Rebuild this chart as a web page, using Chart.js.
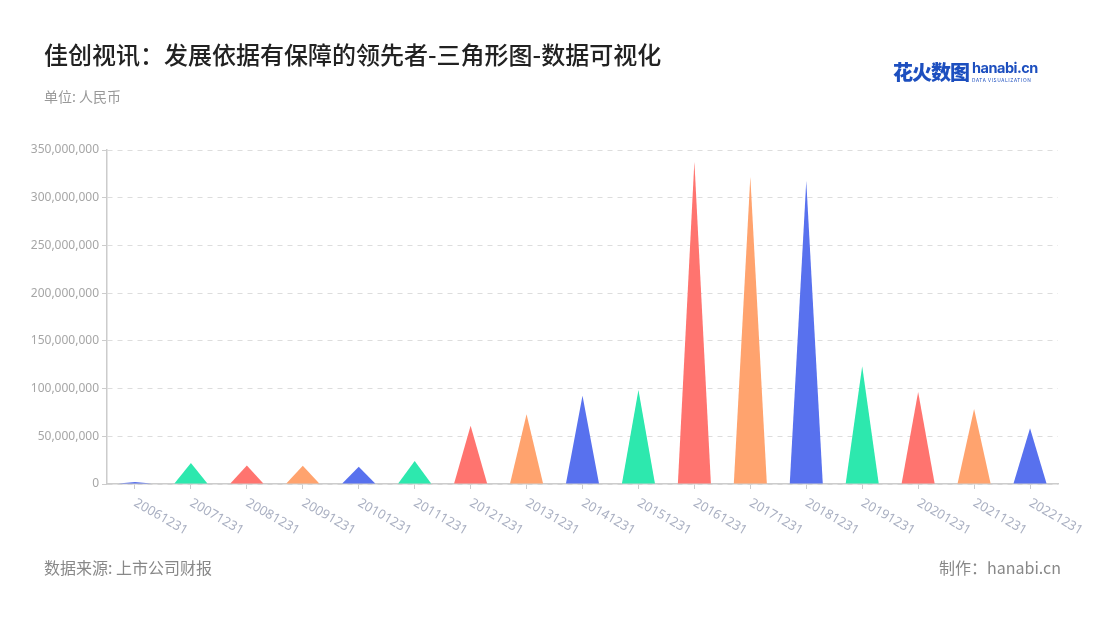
<!DOCTYPE html>
<html>
<head>
<meta charset="utf-8">
<script src="https://cdn.jsdelivr.net/npm/chart.js@4"></script>
<style>
  html, body { margin: 0; padding: 0; background: #fff; }
  body { width: 1100px; height: 620px; position: relative; overflow: hidden; font-family: "Noto Sans CJK SC", "Noto Sans", sans-serif; }
  #wrap { position: absolute; left: 0; top: 0; width: 1100px; height: 620px; }
  .title { position: absolute; left: 44px; top: 36px; font-size: 24px; font-weight: 500; color: #222; white-space: nowrap; }
  .unit { position: absolute; left: 44px; top: 86px; font-size: 14px; color: #999; }
  .source { position: absolute; left: 44px; top: 555px; font-size: 16px; color: #888; }
  .maker { position: absolute; right: 39px; top: 555px; font-size: 16px; color: #888; }
  .logo { position: absolute; left: 893px; top: 57px; color: #1d4fbf; white-space: nowrap; }
  .logo .cn { font-size: 20px; font-weight: 900; letter-spacing: -1px; vertical-align: top; }
  .logo .en { display: inline-block; margin-left: 3px; vertical-align: top; line-height: 1; }
  .logo .en b { display: block; font-family: "Inter", sans-serif; font-size: 14.5px; font-weight: 700; letter-spacing: -0.5px; margin-top: 4px; }
  .logo .en i { display: block; font-style: normal; font-size: 5px; letter-spacing: 0.6px; margin-top: 1px; }
</style>
</head>
<body>
<div id="wrap"><canvas id="chart" width="1100" height="620"></canvas></div>
<div class="title">佳创视讯：发展依据有保障的领先者-三角形图-数据可视化</div>
<div class="unit">单位: 人民币</div>
<div class="source">数据来源: 上市公司财报</div>
<div class="maker">制作：hanabi.cn</div>
<div class="logo"><span class="cn">花火数图</span><span class="en"><b>hanabi.cn</b><i>DATA VISUALIZATION</i></span></div>
<script>
const categories = ['20061231', '20071231', '20081231', '20091231', '20101231', '20111231',
    '20121231', '20131231', '20141231', '20151231', '20161231', '20171231',
    '20181231', '20191231', '20201231', '20211231', '20221231'];
const revenue = [2000000, 22000000, 19500000, 19000000, 18000000, 24000000,
    61000000, 73000000, 92500000, 98500000, 338000000, 322000000,
    317500000, 123500000, 96500000, 78500000, 58500000];
const yTicks = [0, 50000000, 100000000, 150000000, 200000000, 250000000, 300000000, 350000000];

const PALETTE = ['#5871ee', '#2de8ae', '#ff746f', '#ffa36e'];

// desenha cada barra como triângulo usando as posições calculadas pelo Chart.js
const trianglePlugin = {
    id: 'triangles',
    beforeDatasetDraw(chart, args) {
        const ctx = chart.ctx;
        const meta = args.meta;
        ctx.save();
        meta.data.forEach((bar, i) => {
            const p = bar.getProps(['x', 'y', 'base', 'width'], true);
            ctx.beginPath();
            ctx.moveTo(p.x - p.width / 2, p.base);
            ctx.lineTo(p.x, p.y);
            ctx.lineTo(p.x + p.width / 2, p.base);
            ctx.closePath();
            ctx.fillStyle = PALETTE[i % PALETTE.length];
            ctx.fill();
        });
        ctx.restore();
        return false;
    }
};

// rótulos do eixo x inclinados para baixo, começando no tick
const xLabelPlugin = {
    id: 'xLabels',
    afterDraw(chart) {
        const ctx = chart.ctx;
        const xs = chart.scales.x;
        ctx.save();
        ctx.font = '13px "Noto Sans", sans-serif';
        ctx.fillStyle = '#aab0c2';
        ctx.textAlign = 'left';
        ctx.textBaseline = 'middle';
        categories.forEach((label, i) => {
            const x = xs.getPixelForTick(i);
            ctx.save();
            ctx.translate(x, xs.top + 18);
            ctx.rotate(Math.PI / 6);
            ctx.fillText(label, 0, 0);
            ctx.restore();
        });
        ctx.restore();
    }
};

new Chart(document.getElementById('chart'), {
    type: 'bar',
    data: {
        labels: categories,
        datasets: [{
            data: revenue,
            backgroundColor: PALETTE,
            barPercentage: 0.59,
            categoryPercentage: 1
        }]
    },
    options: {
        responsive: false,
        animation: false,
        layout: { padding: { top: 150, right: 42, left: 0, bottom: 0 } },
        plugins: { legend: { display: false }, tooltip: { enabled: false } },
        scales: {
            x: {
                afterFit(scale) { scale.height = 136; },
                ticks: { display: false },
                grid: { drawOnChartArea: false, drawTicks: true, tickLength: 5, offset: false, color: '#cccccc', tickColor: '#cccccc' },
                border: { color: '#cccccc', width: 1.5 }
            },
            y: {
                min: 0,
                max: 350000000,
                afterFit(scale) { scale.width = 107; },
                afterBuildTicks(scale) { scale.ticks = yTicks.map(v => ({ value: v })); },
                ticks: {
                    padding: 3,
                    color: '#a6a6a6',
                    font: { size: 12, family: '"Noto Sans", sans-serif' },
                    callback: v => v.toLocaleString('en-US')
                },
                grid: { color: '#dddddd', tickLength: 5, tickColor: '#cccccc', tickBorderDash: [] },
                border: { color: '#cccccc', width: 1.5, dash: [5, 5] }
            }
        }
    },
    plugins: [trianglePlugin, xLabelPlugin]
});
</script>
</body>
</html>
